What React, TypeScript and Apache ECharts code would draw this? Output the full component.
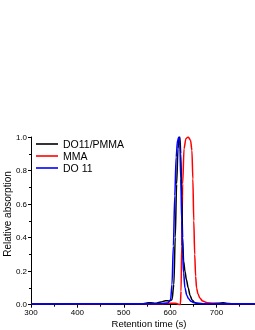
import React, { useEffect, useRef } from "react";
import * as echarts from "echarts";

const seriesNames = ["DO11/PMMA", "MMA", "DO 11"];
const seriesColors = ["#000000", "#ff0000", "#0000ff"];

const pmmaX = [300, 400, 450, 500, 540, 550, 558, 568, 580, 590, 598, 604, 608, 611, 614, 617, 619, 621, 623, 625, 627, 629, 632, 635, 639, 643, 647, 652, 658, 670, 690, 705, 715, 725, 740, 783];
const pmmaY = [0.004, 0.005, 0.005, 0.004, 0.005, 0.01, 0.012, 0.008, 0.016, 0.024, 0.022, 0.03, 0.12, 0.4, 0.72, 0.93, 0.99, 1.0, 0.9, 0.65, 0.4, 0.26, 0.2, 0.15, 0.1, 0.055, 0.03, 0.015, 0.008, 0.006, 0.006, 0.008, 0.012, 0.007, 0.005, 0.005];

const mmaX = [300, 400, 500, 580, 600, 612, 618, 622, 623.5, 625, 627, 630, 634, 639, 644, 647, 649, 651, 653, 655, 657, 660, 664, 670, 680, 695, 715, 740, 783];
const mmaY = [0.003, 0.004, 0.004, 0.006, 0.008, 0.008, 0.003, 0.0, 0.08, 0.35, 0.72, 0.93, 0.99, 1.0, 0.98, 0.92, 0.75, 0.5, 0.3, 0.17, 0.1, 0.065, 0.04, 0.022, 0.012, 0.008, 0.007, 0.005, 0.005];

const do11X = [300, 400, 500, 560, 580, 595, 601, 604, 607, 610, 613, 616, 619, 621, 623, 625, 627, 629, 632, 636, 640, 645, 652, 662, 680, 783];
const do11Y = [0.004, 0.005, 0.005, 0.005, 0.007, 0.01, 0.03, 0.12, 0.35, 0.65, 0.88, 0.98, 1.0, 0.95, 0.75, 0.5, 0.3, 0.19, 0.1, 0.055, 0.035, 0.02, 0.012, 0.007, 0.005, 0.005];

const xTicks = { min: 300, max: 783, interval: 100 };
const yTicks = { min: 0, max: 1, interval: 0.2 };

const xTitle = "Retention time (s)";
const yTitle = "Relative absorption";

const FONT = "Liberation Sans, Arial, sans-serif";

export default function App() {
  const ref = useRef<HTMLDivElement>(null);
  useEffect(() => {
    if (!ref.current) return;
    const chart = echarts.init(ref.current, undefined, { renderer: "svg" });
    const zip = (xs: number[], ys: number[]) => xs.map((x, i) => [x, ys[i]]);
    const datasets = [zip(pmmaX, pmmaY), zip(mmaX, mmaY), zip(do11X, do11Y)];
    chart.setOption({
      animation: false,
      textStyle: { fontFamily: FONT },
      grid: { left: 31, right: 0, top: 137, bottom: 25.3 },
      legend: {
        orient: "vertical",
        left: 36,
        top: 138,
        icon: "rect",
        itemWidth: 22,
        itemHeight: 1.6,
        itemGap: 0,
        padding: 0,
        textStyle: { fontSize: 10.5, color: "#000", fontFamily: FONT, lineHeight: 12 },
        data: seriesNames,
      },
      xAxis: {
        type: "value",
        min: xTicks.min,
        max: xTicks.max,
        interval: xTicks.interval,
        axisLine: { lineStyle: { color: "#000", width: 1 } },
        axisTick: { show: true, length: 3, lineStyle: { color: "#000" } },
        minorTick: { show: true, splitNumber: 2, length: 2, lineStyle: { color: "#000" } },
        splitLine: { show: false },
        axisLabel: { fontSize: 8, color: "#000", margin: 4, fontFamily: FONT, showMaxLabel: false },
      },
      yAxis: {
        type: "value",
        min: yTicks.min,
        max: yTicks.max,
        interval: yTicks.interval,
        axisLine: { show: true, lineStyle: { color: "#000", width: 1 } },
        axisTick: { show: true, length: 3, lineStyle: { color: "#000" } },
        minorTick: { show: true, splitNumber: 2, length: 2, lineStyle: { color: "#000" } },
        splitLine: { show: false },
        axisLabel: {
          fontSize: 8,
          color: "#000",
          margin: 4,
          fontFamily: FONT,
          formatter: (v: number) => v.toFixed(1),
        },
      },
      graphic: [
        {
          type: "text",
          x: 149,
          y: 323,
          style: { text: xTitle, fontSize: 9.5, fill: "#000", font: `9.5px ${FONT}`, textAlign: "center", textVerticalAlign: "middle" },
        },
        {
          type: "text",
          x: 7,
          y: 214,
          rotation: Math.PI / 2,
          style: { text: yTitle, fontSize: 10, fill: "#000", font: `10px ${FONT}`, textAlign: "center", textVerticalAlign: "middle" },
        },
      ],
      series: seriesNames.map((name, i) => ({
        name,
        type: "line",
        data: datasets[i],
        symbol: "none",
        smooth: 0.3,
        smoothMonotone: "x",
        lineStyle: { color: seriesColors[i], width: 1.5 },
        itemStyle: { color: seriesColors[i] },
        z: i === 2 ? 4 : i === 0 ? 3 : 2,
      })),
    });
    return () => chart.dispose();
  }, []);
  return <div ref={ref} style={{ position: "fixed", left: 0, top: 0, width: 255, height: 330 }} />;
}
